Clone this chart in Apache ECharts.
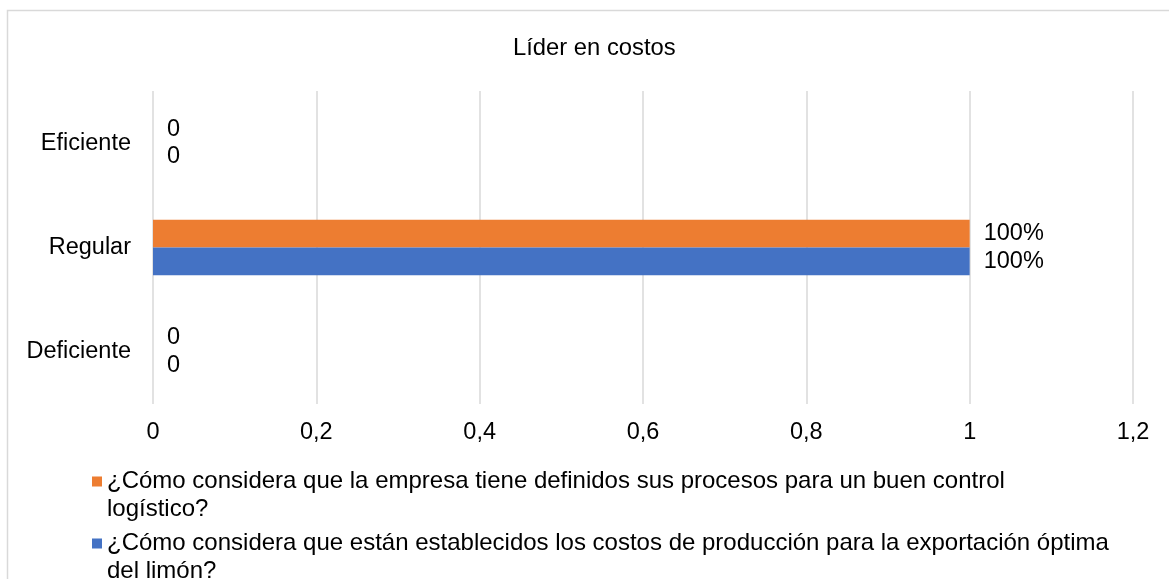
<!DOCTYPE html>
<html>
<head>
<meta charset="utf-8">
<style>
  html, body { margin: 0; padding: 0; background: #ffffff; }
  #chart { width: 1169px; height: 579px; }
</style>
<script src="https://cdn.jsdelivr.net/npm/echarts@6/dist/echarts.min.js"></script>
</head>
<body>
<div id="chart"></div>
<script>
// Category labels, bottom to top
const categories = ['Deficiente', 'Regular', 'Eficiente'];

// Series names (legend text, with its line break)
const seriesNameProcesos = '¿Cómo considera que la empresa tiene definidos sus procesos para un buen control\nlogístico?';
const seriesNameCostos = '¿Cómo considera que están establecidos los costos de producción para la exportación óptima\ndel limón?';

// Share of answers per category
const valuesProcesos = [0, 1, 0];
const valuesCostos = [0, 1, 0];

// Value axis range
const axisMin = 0;
const axisMax = 1.2;
const axisStep = 0.2;

const FONT = '"Liberation Sans", Arial, sans-serif';
const FS = 23.5;
const GRID_COLOR = '#d9d9d9';

function valueLabel(p) {
  return p.value === 0 ? '0' : Math.round(p.value * 100) + '%';
}

function tickLabel(v) {
  return String(Math.round(v * 10) / 10).replace('.', ',');
}

// Legend marker: a square sitting beside the first line of a two-line label
const legendIcon = 'path://M0,0h0.01v0.01h-0.01z M0,9.5h10v10h-10z M0,56.99h0.01v0.01h-0.01z';

function legendBlock(name, top) {
  return {
    orient: 'vertical',
    left: 92,
    top: top,
    padding: 0,
    itemGap: 0,
    itemWidth: 10,
    itemHeight: 57,
    icon: legendIcon,
    data: [name],
    textStyle: { fontFamily: FONT, fontSize: 24, lineHeight: 28, color: '#000000' }
  };
}

const chart = echarts.init(document.getElementById('chart'), null, { renderer: 'canvas' });

chart.setOption({
  backgroundColor: '#ffffff',
  animation: false,
  textStyle: { fontFamily: FONT },
  title: {
    text: 'Líder en costos',
    left: 513,
    top: 36,
    padding: 0,
    textStyle: { fontFamily: FONT, fontSize: 23.8, fontWeight: 'normal', color: '#000000' }
  },
  graphic: [{
    type: 'rect',
    shape: { x: 7.5, y: 10.5, width: 1200, height: 600 },
    style: { fill: 'none', stroke: GRID_COLOR, lineWidth: 1.5 },
    silent: true,
    z: -1
  }],
  legend: [
    legendBlock(seriesNameProcesos, 467),
    legendBlock(seriesNameCostos, 529)
  ],
  grid: {
    left: 153,
    right: 36,
    top: 91,
    bottom: 175,
    containLabel: false
  },
  xAxis: {
    type: 'value',
    min: axisMin,
    max: axisMax,
    interval: axisStep,
    axisLine: { show: false },
    axisTick: { show: false },
    splitLine: { show: true, lineStyle: { color: GRID_COLOR, width: 1.5 } },
    axisLabel: {
      margin: 17,
      fontFamily: FONT,
      fontSize: FS,
      color: '#000000',
      formatter: tickLabel
    }
  },
  yAxis: {
    type: 'category',
    data: categories,
    axisLine: { show: false },
    axisTick: { show: false },
    splitLine: { show: false },
    axisLabel: {
      margin: 22,
      fontFamily: FONT,
      fontSize: FS,
      color: '#000000'
    }
  },
  series: [
    {
      name: seriesNameProcesos,
      type: 'bar',
      data: valuesProcesos,
      barGap: '0%',
      barCategoryGap: '47%',
      itemStyle: { color: '#ed7d31' },
      label: {
        show: true,
        position: 'right',
        distance: 14,
        fontFamily: FONT,
        fontSize: FS,
        color: '#000000',
        formatter: valueLabel
      }
    },
    {
      name: seriesNameCostos,
      type: 'bar',
      data: valuesCostos,
      barGap: '0%',
      barCategoryGap: '47%',
      itemStyle: { color: '#4472c4' },
      label: {
        show: true,
        position: 'right',
        distance: 14,
        fontFamily: FONT,
        fontSize: FS,
        color: '#000000',
        formatter: valueLabel
      }
    }
  ]
});
</script>
</body>
</html>
